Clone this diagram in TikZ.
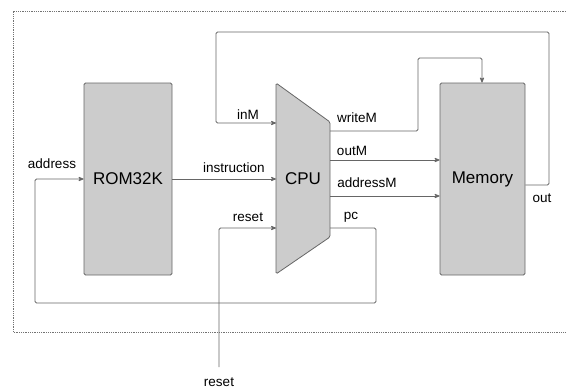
\documentclass[tikz,border=0pt]{standalone}
\usepackage{fontspec}
\setmainfont{Liberation Sans}
\usetikzlibrary{arrows, calc}

\begin{document}
\begin{tikzpicture}[x=1pt,y=-1pt,>=stealth',wire/.style={draw=black!60,line width=0.8pt,rounded corners=1.5pt},
  block/.style={draw=black!60,fill=black!20,line width=0.8pt,rounded corners=1.5pt,inner sep=0pt},
  lbl/.style={font=\fontsize{13.5}{15}\selectfont,inner sep=0pt}]
  \useasboundingbox (0,0) rectangle (566,391);
  % Define frame
  \draw[black!55,densely dotted,line width=0.8pt] (566,11) -- (13,11) -- (13,332) -- (566,332);

  % Define nodes
  \node[block,minimum width=88pt,minimum height=192pt] (rom) at (128,179) {};
  \node[block,minimum width=85pt,minimum height=192pt] (mem) at (482.5,179) {};
  \draw[block] (276,83) -- (330,122) -- (330,237) -- (276,274) -- cycle;
  \node[font=\fontsize{17}{19}\selectfont,inner sep=0pt] (romtxt) at (rom.center) {ROM32K};
  \node[font=\fontsize{17}{19}\selectfont,inner sep=0pt] (cputxt) at (303,179) {CPU};
  \node[font=\fontsize{17}{19}\selectfont,inner sep=0pt] (memtxt) at (mem.center) {Memory};

  % CPU ports
  \coordinate (inM) at (276,123);
  \coordinate (instr) at (276,179);
  \coordinate (rst) at (276,228);
  \coordinate (wrM) at (330,131);
  \coordinate (outM) at (330,160);
  \coordinate (adM) at (330,196);
  \coordinate (pc) at (330,228);
  \coordinate (resetin) at (219,367);

  % Draw wires
  \draw[wire,->] (mem.east |- 0,185) -- (549,185) -- (549,32) -- (216,32) -- (216,123) -- (inM);
  \draw[wire,->] (rom.east |- instr) -- (instr);
  \draw[wire,->] (resetin) -- (219,228) -- (rst);
  \draw[wire,->] (wrM) -- (418,131) -- (418,58) -- (482,58) -- (mem.north -| 482,0);
  \draw[wire,->] (outM) -- (mem.west |- outM);
  \draw[wire,->] (adM) -- (mem.west |- adM);
  \draw[wire,->] (pc) -- (376,228) -- (376,303) -- (35,303) -- (35,179) -- (rom.west |- instr);

  % Labels
  \node[lbl] (laddress) at (52,164) {address};
  \node[lbl] (linstr) at (234,168) {instruction};
  \node[lbl] (linM) at (248,115) {inM};
  \node[lbl] (lreset) at (248,217) {reset};
  \node[lbl] (lwriteM) at (357,118) {writeM};
  \node[lbl] (loutM) at (352,151) {outM};
  \node[lbl] (laddrM) at (367,183) {addressM};
  \node[lbl] (lpc) at (351,217) {pc};
  \node[lbl] (lout) at (542,198) {out};
  \node[lbl] (lresetin) at (219,382) {reset};
\end{tikzpicture}
\end{document}
